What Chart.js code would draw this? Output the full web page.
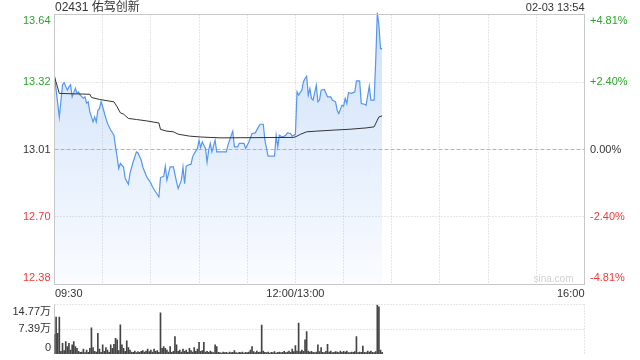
<!DOCTYPE html>
<html><head><meta charset="utf-8">
<script src="https://cdn.jsdelivr.net/npm/chart.js@4.4.1/dist/chart.umd.min.js"></script>
<style>
html,body{margin:0;padding:0;background:#fff;}
#wrap{position:relative;width:640px;height:360px;overflow:hidden;background:#fff;}
canvas{position:absolute;left:0;}
#main{top:0;}
#vol{top:296px;}
</style></head><body>
<div id="wrap"><canvas id="main" width="640" height="360"></canvas><canvas id="vol" width="640" height="64"></canvas></div>
<script>
// ---------- data ----------
const title = '02431 佑驾创新';
const stamp = '02-03 13:54';
const totalMinutes = 330;            // 09:30-12:00 + 13:00-16:00
const xTickMinutes = [0, 150, 330];
const xTickLabels = ['09:30', '12:00/13:00', '16:00'];
const prevClose = 13.01;
const pctTicks = [4.81, 2.40, 0, -2.40, -4.81];
const priceTickLabels = ['13.64', '13.32', '13.01', '12.70', '12.38'];
const pctTickLabels = ['+4.81%', '+2.40%', '0.00%', '-2.40%', '-4.81%'];
const volTicks = [14.77, 7.39, 0];
const volTickLabels = ['14.77万', '7.39万', '0'];

const priceMinutes = [0,3,5,6,8,9,10,11,13,14,15,16,18,19,20,21,22,24,25,26,27,28,29,30,32,33,35,37,38,39,40,41,43,44,46,47,49,51,52,54,55,57,58,60,61,63,65,66,68,69,70,72,74,76,77,79,80,81,82,83,85,86,87,89,90,91,92,93,94,95,96,97,98,100,101,107,108,109,111,112,114,115,118,119,121,123,125,127,128,130,131,132,133,137,138,139,140,142,144,145,147,148,150,151,152,154,155,156,157,158,159,160,161,163,164,165,166,168,170,172,173,175,176,177,179,180,181,182,183,185,187,188,190,191,193,194,196,197,199,200,201,202,203,204];
const prices = [13.35,13.16,13.31,13.32,13.285,13.30,13.31,13.254,13.294,13.271,13.277,13.262,13.248,13.254,13.225,13.231,13.184,13.138,13.161,13.138,13.192,13.20,13.231,13.208,13.154,13.131,13.10,13.076,13.022,12.976,12.922,12.945,12.929,12.876,12.849,12.899,12.953,12.999,12.994,12.96,12.929,12.891,12.876,12.855,12.837,12.813,12.79,12.88,12.886,12.933,12.868,12.929,12.929,12.86,12.829,12.868,12.929,12.852,12.933,12.937,12.942,12.976,12.991,13.015,13.053,13.019,13.045,13.03,13.015,12.951,13.007,13.038,12.999,13.053,12.999,12.999,13.03,13.053,13.095,13.022,13.022,13.038,13.038,13.015,13.045,13.084,13.087,13.115,13.127,13.127,13.053,13.015,12.979,12.979,13.076,13.022,13.076,13.068,13.076,13.087,13.084,13.072,13.08,13.277,13.262,13.285,13.324,13.339,13.35,13.262,13.293,13.247,13.239,13.308,13.231,13.239,13.285,13.288,13.254,13.254,13.239,13.231,13.192,13.177,13.215,13.211,13.247,13.223,13.273,13.27,13.277,13.328,13.328,13.223,13.22,13.215,13.304,13.239,13.239,13.42,13.645,13.586,13.478,13.478];

const avgMinutes = [0,3,22,23,28,37,39,41,43,46,51,57,65,66,70,74,77,84,91,103,149,151,153,157,163,174,184,194,199,201,202,204];
const avgPrices = [13.347,13.27,13.266,13.251,13.242,13.231,13.208,13.18,13.174,13.154,13.149,13.143,13.133,13.103,13.095,13.092,13.081,13.072,13.068,13.064,13.066,13.072,13.08,13.092,13.095,13.10,13.104,13.11,13.115,13.146,13.161,13.166];

// volume per minute (万股), minute index 0..204
const volumes = [
5.9,11.0,6.2,11.0,0.8,3.2,1.0,3.7,2.2,3.2,
1.2,2.7,3.7,2.2,1.7,0.8,0.5,0.6,1.5,0.4,
1.2,0.5,1.7,7.8,1.9,0.8,0.6,6.2,1.5,0.5,
2.7,0.8,1.9,1.2,0.5,2.7,1.7,2.9,4.7,4.2,
1.0,8.7,2.7,1.7,0.8,3.9,1.9,1.2,0.6,0.5,
0.9,0.4,0.7,0.5,0.8,1.0,0.6,0.9,1.5,0.7,
1.2,0.6,1.5,0.8,1.0,0.5,12.3,1.7,2.2,1.7,
1.2,0.6,2.2,0.5,0.8,5.2,2.7,0.8,1.2,0.6,
1.5,0.8,1.2,0.5,1.7,1.0,0.6,1.9,0.8,1.5,
3.5,0.8,1.0,3.5,0.6,0.8,0.5,0.9,0.6,0.4,
2.7,2.2,0.5,0.4,0.3,0.6,0.4,0.5,0.3,0.6,
0.4,0.5,1.0,0.4,0.3,0.5,0.4,0.6,0.3,0.5,
0.4,0.6,1.2,2.2,0.7,0.4,0.9,0.5,0.6,8.6,
0.9,0.5,0.4,0.6,0.3,0.5,0.4,0.7,0.3,0.5,
0.6,0.4,0.5,0.8,0.4,0.6,0.9,0.5,1.5,0.7,
2.5,0.9,9.2,0.7,1.2,0.8,4.2,6.7,0.9,0.6,
0.8,0.5,0.4,0.6,2.7,0.7,1.9,0.5,0.4,0.8,
2.9,0.6,0.9,0.4,0.5,0.7,0.6,0.4,0.9,0.5,
0.8,0.6,0.9,0.4,0.4,0.6,0.5,0.7,5.2,0.4,
0.6,0.5,2.4,0.5,0.4,0.9,0.6,0.9,0.5,0.4,
0.7,14.6,14.1,1.2,0.5];

// ---------- helpers ----------
const FONT = '"Liberation Sans", Arial, "Noto Sans CJK SC", sans-serif';
const GREEN = '#2aa52a', RED = '#ee3b3b', DARK = '#333333';
const snap = v => Math.round(v - 0.5) + 0.5;
function line(ctx, x1, y1, x2, y2, color, dash) {
  ctx.save(); ctx.strokeStyle = color; ctx.lineWidth = 1; ctx.setLineDash(dash || []);
  ctx.beginPath(); ctx.moveTo(x1, y1); ctx.lineTo(x2, y2); ctx.stroke(); ctx.restore();
}
function text(ctx, s, x, y, align, color, size) {
  ctx.save(); ctx.font = (size || 11) + 'px ' + FONT; ctx.fillStyle = color;
  ctx.textAlign = align; ctx.textBaseline = 'middle'; ctx.fillText(s, x, y); ctx.restore();
}
const pctToPrice = p => prevClose * (1 + p / 100);

// ---------- main chart ----------
const mainDeco = {
  id: 'mainDeco',
  beforeDatasetsDraw(chart) {
    const { ctx, chartArea: a, scales: { x, y } } = chart;
    for (let m = 30; m < totalMinutes; m += 30) {
      const px = snap(x.getPixelForValue(m));
      line(ctx, px, a.top, px, a.bottom, '#cfcfcf', [1, 2]);
    }
    pctTicks.forEach((p, i) => {
      if (i === 0 || i === pctTicks.length - 1) return;
      const py = snap(y.getPixelForValue(pctToPrice(p)));
      if (p === 0) line(ctx, a.left, py, a.right, py, '#b5b5b5', [4, 2]);
      else line(ctx, a.left, py, a.right, py, '#cfcfcf', [1, 2]);
    });
  },
  afterDraw(chart) {
    const { ctx, chartArea: a, scales: { x, y } } = chart;
    ctx.save(); ctx.strokeStyle = '#c8c8c8'; ctx.lineWidth = 1;
    ctx.strokeRect(snap(a.left), snap(a.top), snap(a.right) - snap(a.left), snap(a.bottom) - snap(a.top));
    ctx.restore();
    const n = pctTicks.length;
    pctTicks.forEach((p, i) => {
      let py = y.getPixelForValue(pctToPrice(p));
      if (i === 0) py += 6; else if (i === n - 1) py -= 6.5;
      const col = p > 0 ? GREEN : (p < 0 ? RED : DARK);
      text(ctx, priceTickLabels[i], a.left - 4, py, 'right', col);
      text(ctx, pctTickLabels[i], a.right + 5.5, py, 'left', col);
    });
    xTickMinutes.forEach((m, i) => {
      const px = x.getPixelForValue(m);
      const al = i === 0 ? 'left' : (i === xTickMinutes.length - 1 ? 'right' : 'center');
      text(ctx, xTickLabels[i], px + (i === 0 ? 0.5 : 0), a.bottom + 9, al, DARK);
    });
    text(ctx, title, a.left + 0.5, 7.5, 'left', DARK, 12);
    text(ctx, stamp, a.right, 7.5, 'right', DARK, 11);
    text(ctx, 'sina.com', a.right - 11, a.bottom - 5, 'right', '#d2d2d2', 10);
  }
};

new Chart(document.getElementById('main'), {
  type: 'line',
  data: {
    datasets: [
      { data: avgPrices.map((v, i) => ({ x: avgMinutes[i], y: v })),
        borderColor: '#333333', borderWidth: 1, pointRadius: 0, tension: 0, fill: false },
      { data: prices.map((v, i) => ({ x: priceMinutes[i], y: v })),
        borderColor: '#5596f0', borderWidth: 1.2, pointRadius: 0, tension: 0, fill: 'start',
        clip: { left: 0, right: 0, top: 3, bottom: 0 },
        backgroundColor: (c) => {
          const a = c.chart.chartArea; if (!a) return 'rgba(120,170,240,0.2)';
          const g = c.chart.ctx.createLinearGradient(0, a.top, 0, a.bottom);
          g.addColorStop(0, 'rgba(110,165,240,0.34)');
          g.addColorStop(1, 'rgba(110,165,240,0.03)');
          return g;
        } }
    ]
  },
  options: {
    responsive: false, animation: false, events: [],
    layout: { padding: { left: 54.5, right: 55.5, top: 14.5, bottom: 75.5 } },
    scales: {
      x: { type: 'linear', min: 0, max: totalMinutes, display: false },
      y: { type: 'linear', min: pctToPrice(pctTicks[pctTicks.length - 1]), max: pctToPrice(pctTicks[0]), display: false }
    },
    plugins: { legend: { display: false }, tooltip: { enabled: false } }
  },
  plugins: [mainDeco]
});

// ---------- volume chart ----------
const volDeco = {
  id: 'volDeco',
  beforeDatasetsDraw(chart) {
    const { ctx, chartArea: a, scales: { y } } = chart;
    volTicks.forEach((v, i) => {
      if (v === 0) return;
      const py = snap(y.getPixelForValue(v));
      line(ctx, a.left, py, a.right, py, '#cfcfcf', [1, 2]);
    });
    line(ctx, snap(a.right), snap(y.getPixelForValue(volTicks[0])), snap(a.right), a.bottom, '#cfcfcf', [1, 2]);
    line(ctx, snap(a.left), snap(y.getPixelForValue(volTicks[0])), snap(a.left), a.bottom, '#c8c8c8');
  },
  afterDraw(chart) {
    const { ctx, chartArea: a, scales: { y } } = chart;
    const n = volTicks.length;
    volTicks.forEach((v, i) => {
      let py = y.getPixelForValue(v);
      if (i === 0) py += 7; else if (i === n - 1) py -= 6;
      text(ctx, volTickLabels[i], a.left - 3.5, py, 'right', DARK);
    });
  }
};

new Chart(document.getElementById('vol'), {
  type: 'bar',
  data: {
    datasets: [{ data: volumes.map((v, i) => ({ x: i, y: v })),
      backgroundColor: '#444444', borderWidth: 0, barThickness: 1 }]
  },
  options: {
    responsive: false, animation: false, events: [],
    layout: { padding: { left: 54.5, right: 55.5, top: 8.5, bottom: 6 } },
    scales: {
      x: { type: 'linear', min: 0, max: totalMinutes, offset: false, display: false },
      y: { type: 'linear', min: 0, max: volTicks[0], display: false }
    },
    plugins: { legend: { display: false }, tooltip: { enabled: false } }
  },
  plugins: [volDeco]
});
</script>
</body></html>
